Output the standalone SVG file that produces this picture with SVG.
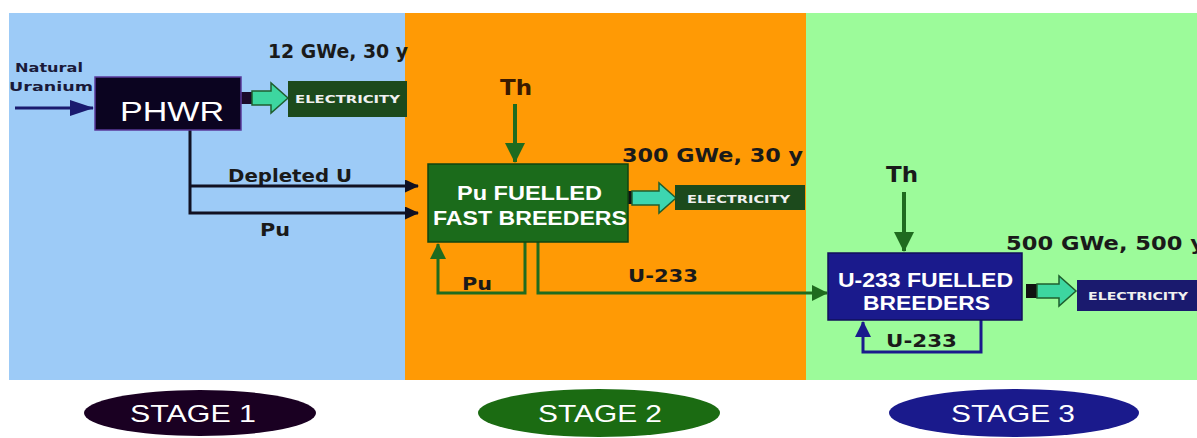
<svg xmlns="http://www.w3.org/2000/svg" width="1197" height="438" viewBox="0 0 1197 438">
<defs>
<style>
.t{font-family:"DejaVu Sans",Verdana,sans-serif;font-weight:bold}
.b{font-family:"Liberation Sans",Arial,sans-serif;font-weight:bold;fill:#ffffff;font-size:20px}
.lbl{font-size:17px;fill:#1a1a1a}
.big{font-size:19px;fill:#1a1a1a}
.elec{font-family:"DejaVu Sans",Verdana,sans-serif;font-weight:bold;font-size:11px;fill:#f0f0f0}
.stg{font-family:"Liberation Sans",Arial,sans-serif;font-size:24px;fill:#ffffff}
.ln{fill:none;stroke-width:3}
</style>
<marker id="aNavy" markerWidth="24" markerHeight="16" refX="23" refY="8" orient="auto" markerUnits="userSpaceOnUse" viewBox="0 0 24 16"><path d="M0,0 L24,8 L0,16 Z" fill="#1a1a6e"/></marker>
<marker id="aBlack" markerWidth="14" markerHeight="13" refX="13" refY="6.5" orient="auto" markerUnits="userSpaceOnUse" viewBox="0 0 14 13"><path d="M0,0 L14,6.5 L0,13 Z" fill="#111122"/></marker>
<marker id="aGreen" markerWidth="20" markerHeight="20" refX="19" refY="10" orient="auto" markerUnits="userSpaceOnUse" viewBox="0 0 20 20"><path d="M0,0 L20,10 L0,20 Z" fill="#1f6b1f"/></marker>
<marker id="aGreenS" markerWidth="16" markerHeight="16" refX="15" refY="8" orient="auto" markerUnits="userSpaceOnUse" viewBox="0 0 16 16"><path d="M0,0 L16,8 L0,16 Z" fill="#1f6b1f"/></marker>
<marker id="aBlue" markerWidth="16" markerHeight="16" refX="15" refY="8" orient="auto" markerUnits="userSpaceOnUse" viewBox="0 0 16 16"><path d="M0,0 L16,8 L0,16 Z" fill="#1a1a8c"/></marker>
</defs>
<rect width="1197" height="438" fill="#ffffff"/>
<g id="panels">
<rect x="9" y="13" width="396" height="367" fill="#9dcbf7"/>
<rect x="405" y="13" width="401" height="367" fill="#ff9a05"/>
<rect x="806" y="13" width="391" height="367" fill="#9cfb9a"/>
</g>
<g id="labels">
<text class="t" x="15" y="72" font-size="13" fill="#1a1a3a" textLength="68" lengthAdjust="spacingAndGlyphs">Natural</text>
<text class="t" x="9" y="91" font-size="13" fill="#1a1a3a" textLength="84" lengthAdjust="spacingAndGlyphs">Uranium</text>
<text class="t big" x="268" y="58" textLength="140" lengthAdjust="spacingAndGlyphs">12 GWe, 30 y</text>
<text class="t big" x="622" y="162" textLength="181" lengthAdjust="spacingAndGlyphs">300 GWe, 30 y</text>
<text class="t big" x="1006" y="250" textLength="199" lengthAdjust="spacingAndGlyphs">500 GWe, 500 y</text>
<text class="t" x="500" y="95" font-size="21" fill="#3a1a00" textLength="32" lengthAdjust="spacingAndGlyphs">Th</text>
<text class="t" x="886" y="182" font-size="21" fill="#1a1a1a" textLength="32" lengthAdjust="spacingAndGlyphs">Th</text>
<text class="t lbl" x="228" y="182" textLength="124" lengthAdjust="spacingAndGlyphs">Depleted U</text>
<text class="t lbl" x="260" y="236" textLength="30" lengthAdjust="spacingAndGlyphs">Pu</text>
<text class="t lbl" x="462" y="290" fill="#3a1a00" textLength="30" lengthAdjust="spacingAndGlyphs">Pu</text>
<text class="t lbl" x="628" y="282" fill="#3a1a00" textLength="70" lengthAdjust="spacingAndGlyphs">U-233</text>
<text class="t lbl" x="886" y="347" fill="#1a1a3a" textLength="71" lengthAdjust="spacingAndGlyphs">U-233</text>
</g>
<g id="connectors">
<line x1="15" y1="108" x2="93" y2="108" stroke="#1a1a6e" stroke-width="3" marker-end="url(#aNavy)"/>
<path class="ln" d="M190,130 V213 H418" stroke="#111122" marker-end="url(#aBlack)"/>
<path class="ln" d="M190,186 H418" stroke="#111122" marker-end="url(#aBlack)"/>
<line x1="515" y1="104" x2="515" y2="162" stroke="#1f6b1f" stroke-width="4" marker-end="url(#aGreen)"/>
<path class="ln" d="M525,242 V293 H438 V244" stroke="#1f6b1f" marker-end="url(#aGreenS)"/>
<path class="ln" d="M538,242 V293 H827" stroke="#1f6b1f" marker-end="url(#aGreenS)"/>
<line x1="904" y1="192" x2="904" y2="251" stroke="#1f6b1f" stroke-width="4" marker-end="url(#aGreen)"/>
<path class="ln" d="M981,320 V352 H863 V322" stroke="#1a1a8c" marker-end="url(#aBlue)"/>
<g id="power1">
<rect x="240" y="92" width="12" height="12" fill="#1a0a2a"/>
<path d="M252,91 H271 V83 L288,98 L271,113 V105 H252 Z" fill="#3dd6a0" stroke="#1f5f2f" stroke-width="1.5"/>
</g>
<g id="power2">
<rect x="626" y="191" width="6" height="13" fill="#111111"/>
<path d="M632,191 H659 V183 L676,198 L659,213 V205 H632 Z" fill="#3dd6b0" stroke="#1f5f2f" stroke-width="1.5"/>
</g>
<g id="power3">
<rect x="1026" y="284" width="11" height="14" fill="#111111"/>
<path d="M1037,284 H1059 V276 L1076,291 L1059,306 V298 H1037 Z" fill="#3dd6a0" stroke="#1f5f2f" stroke-width="1.5"/>
</g>
</g>
<g id="phwr">
<rect x="95" y="77" width="146" height="53" fill="#0b0420" stroke="#5a3a9a" stroke-width="1.5"/>
<text x="120" y="121" font-family="Liberation Sans, Arial, sans-serif" font-size="28" fill="#ffffff" textLength="104" lengthAdjust="spacingAndGlyphs">PHWR</text>
</g>
<g id="elec1">
<rect x="288" y="81" width="119" height="36" fill="#1c4a1c"/>
<text class="elec" x="295" y="103" textLength="105" lengthAdjust="spacingAndGlyphs">ELECTRICITY</text>
</g>
<g id="fbr">
<rect x="428" y="164" width="200" height="78" fill="#1b6b1b" stroke="#114411" stroke-width="1.5"/>
<text class="b" x="457" y="200" textLength="145" lengthAdjust="spacingAndGlyphs">Pu FUELLED</text>
<text class="b" x="433" y="225" textLength="194" lengthAdjust="spacingAndGlyphs">FAST BREEDERS</text>
</g>
<g id="elec2">
<rect x="675" y="185" width="130" height="25" fill="#1c4a1c"/>
<text class="elec" x="687" y="203" textLength="103" lengthAdjust="spacingAndGlyphs">ELECTRICITY</text>
</g>
<g id="u233">
<rect x="828" y="253" width="194" height="67" fill="#1a1a8c" stroke="#10105a" stroke-width="1.5"/>
<text class="b" x="838" y="287" textLength="175" lengthAdjust="spacingAndGlyphs">U-233 FUELLED</text>
<text class="b" x="863" y="310" textLength="127" lengthAdjust="spacingAndGlyphs">BREEDERS</text>
</g>
<g id="elec3">
<rect x="1077" y="280" width="120" height="31" fill="#1a1a6e"/>
<text class="elec" x="1088" y="300" textLength="100" lengthAdjust="spacingAndGlyphs">ELECTRICITY</text>
</g>
<g id="stage1">
<ellipse cx="200" cy="413" rx="116" ry="23" fill="#1a0022"/>
<text class="stg" x="193" y="422" text-anchor="middle" textLength="126" lengthAdjust="spacingAndGlyphs">STAGE 1</text>
</g>
<g id="stage2">
<ellipse cx="599" cy="413" rx="121" ry="24" fill="#1b6b12"/>
<text class="stg" x="600" y="422" text-anchor="middle" textLength="124" lengthAdjust="spacingAndGlyphs">STAGE 2</text>
</g>
<g id="stage3">
<ellipse cx="1014" cy="413" rx="125" ry="24" fill="#1a1a8c"/>
<text class="stg" x="1013" y="422" text-anchor="middle" textLength="124" lengthAdjust="spacingAndGlyphs">STAGE 3</text>
</g>
</svg>
